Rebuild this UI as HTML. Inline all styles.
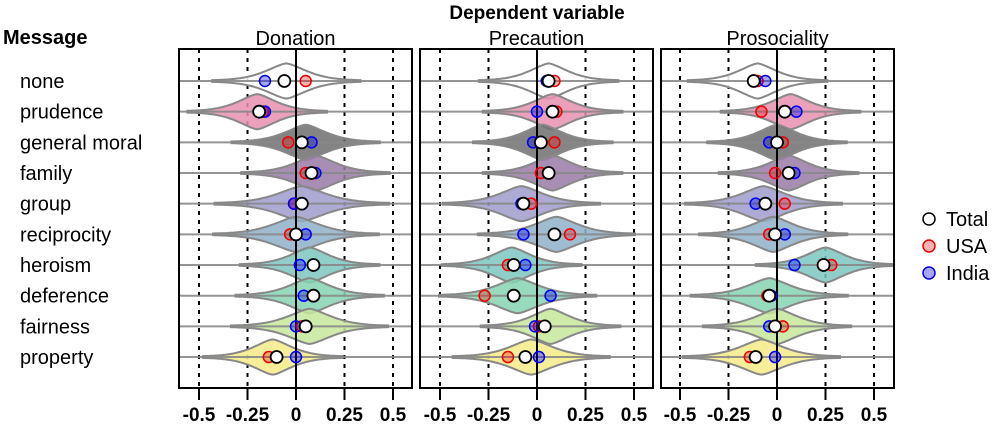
<!DOCTYPE html>
<html><head><meta charset="utf-8"><style>
html,body{margin:0;padding:0;background:#fff}
svg{display:block;font-family:"Liberation Sans",Arial,sans-serif}
</style></head><body>
<svg id="chart" width="1000" height="430" viewBox="0 0 1000 430">
<text x="537" y="19" text-anchor="middle" font-size="19" font-weight="bold">Dependent variable</text>
<text x="3" y="44" font-size="20" font-weight="bold">Message</text>
<g id="rows"></g>
<g id="panels"></g>
<g>
<circle cx="929" cy="219" r="6" fill="#fff" stroke="#000" stroke-width="1.5"/>
<text x="946" y="226" font-size="20">Total</text>
<circle cx="929" cy="246" r="6" fill="rgba(255,0,0,0.3)" stroke="#e00" stroke-width="1.5"/>
<text x="946" y="253" font-size="20">USA</text>
<circle cx="929" cy="273" r="6" fill="rgba(0,0,255,0.35)" stroke="#00e" stroke-width="1.5"/>
<text x="946" y="280" font-size="20">India</text>
</g>
</svg>
<script>
const messages = ["none","prudence","general moral","family","group","reciprocity","heroism","deference","fairness","property"];
const panelNames = ["Donation","Precaution","Prosociality"];
const tickValues = [-0.5,-0.25,0,0.25,0.5];
const tickLabels = ["-0.5","-0.25","0","0.25","0.5"];
const fillColors = ["#ffffff","#e88fb0","#6e6e6e","#9a7aa6","#9f9ccc","#8fb0c8","#7cc6c0","#86d4b2","#c6e89a","#f5eb86"];
const donationPeak = [-0.05,-0.2,0.05,0.1,0.03,0.0,0.07,0.07,0.07,-0.12];
const donationSpread = [0.085,0.08,0.085,0.085,0.1,0.095,0.08,0.085,0.09,0.08];
const precautionPeak = [0.06,0.08,0.03,0.08,-0.08,0.1,-0.13,-0.1,0.07,-0.03];
const precautionSpread = [0.08,0.08,0.08,0.08,0.09,0.09,0.08,0.09,0.08,0.09];
const prosocialPeak = [-0.1,0.07,0.0,0.06,-0.07,-0.02,0.25,-0.04,0.0,-0.08];
const prosocialSpread = [0.08,0.08,0.08,0.08,0.09,0.085,0.08,0.09,0.085,0.09];
const donationTotal = [-0.06,-0.19,0.03,0.08,0.03,0.0,0.09,0.09,0.05,-0.1];
const donationUSA = [0.05,-0.17,-0.04,0.05,-0.01,-0.03,0.09,0.09,0.03,-0.14];
const donationIndia = [-0.16,-0.16,0.08,0.1,-0.01,0.05,0.02,0.04,0.0,0.0];
const precautionTotal = [0.06,0.08,0.02,0.06,-0.07,0.09,-0.12,-0.12,0.04,-0.06];
const precautionUSA = [0.09,0.1,0.09,0.02,-0.03,0.17,-0.15,-0.27,0.01,-0.15];
const precautionIndia = [0.05,0.0,-0.02,0.06,-0.08,-0.07,-0.06,0.07,-0.01,0.01];
const prosocialTotal = [-0.12,0.04,0.0,0.06,-0.06,-0.01,0.24,-0.04,-0.01,-0.11];
const prosocialUSA = [-0.1,-0.08,0.03,-0.01,0.04,-0.04,0.28,-0.05,0.03,-0.14];
const prosocialIndia = [-0.06,0.1,-0.04,0.09,-0.11,0.04,0.09,-0.03,-0.04,-0.01];

const panels = [
 {left:179,right:412,zero:296,peak:donationPeak,spread:donationSpread,total:donationTotal,usa:donationUSA,india:donationIndia},
 {left:420,right:653,zero:537,peak:precautionPeak,spread:precautionSpread,total:precautionTotal,usa:precautionUSA,india:precautionIndia},
 {left:661,right:894,zero:777,peak:prosocialPeak,spread:prosocialSpread,total:prosocialTotal,usa:prosocialUSA,india:prosocialIndia}
];
const NS="http://www.w3.org/2000/svg";
const plotTop=49,plotBottom=388,scale=194;
const yRow=i=>81+i*30.67;
function mk(tag,attrs,parent){const e=document.createElementNS(NS,tag);for(const k in attrs)e.setAttribute(k,attrs[k]);parent.appendChild(e);return e;}
const rowsG=document.getElementById('rows');
messages.forEach((m,i)=>{
 const t=mk('text',{x:20,y:yRow(i)+7,'font-size':20},rowsG);
 t.textContent=m;
 
 
});
const pg=document.getElementById('panels');
panels.forEach((p,pi)=>{
 const xs=v=>p.zero+v*scale;
 const g=mk('g',{},pg);
 
 
 const title=mk('text',{x:(p.left+p.right)/2,y:45,'text-anchor':'middle','font-size':20},g);
 title.textContent=panelNames[pi];
 
 
 tickValues.forEach((v,ti)=>{
  if(v!==0){const l=mk('line',{x1:xs(v),x2:xs(v),y1:plotTop,y2:plotBottom,stroke:'#000','stroke-width':2,'stroke-dasharray':'4,5'},g);
   
   }
  const tk=mk('line',{x1:xs(v),x2:xs(v),y1:plotBottom,y2:plotBottom+12,stroke:'#000','stroke-width':2},g);
  
  
  const tl=mk('text',{x:xs(v),y:421,'text-anchor':'middle','font-size':19,'font-weight':'bold'},g);
  tl.textContent=tickLabels[ti];
  
  
 });
 messages.forEach((m,i)=>{
  const y=yRow(i),c=p.peak[i],s=p.spread[i]*1.25,h=17;
  const up=[],dn=[];
  for(let k=0;k<=80;k++){
   const v=c-3.6*s+7.2*s*k/80;
   const z=Math.abs((v-c)/s);
   const w=h*Math.exp(-0.6*Math.pow(z,1.5))+0.6;
   let x=Math.max(p.left+1,Math.min(p.right-1,xs(v)));
   up.push(x.toFixed(1)+','+(y-w).toFixed(1));dn.unshift(x.toFixed(1)+','+(y+w).toFixed(1));
  }
  const vp=mk('polygon',{points:up.concat(dn).join(' '),fill:fillColors[i],'fill-opacity':0.85,stroke:'#888','stroke-width':2},g);
  
  
 });
 messages.forEach((m,i)=>{
  const rl=mk('line',{x1:p.left,x2:p.right,y1:yRow(i),y2:yRow(i),stroke:'#888','stroke-width':2,'stroke-opacity':0.9},g);
  
  
 });
 const zl=mk('line',{x1:p.zero,x2:p.zero,y1:plotTop,y2:plotBottom,stroke:'#000','stroke-width':2},g);
 
 
 messages.forEach((m,i)=>{
  const y=yRow(i);
  const a=mk('circle',{cx:xs(p.usa[i]),cy:y,r:5.5,fill:'rgba(255,0,0,0.3)',stroke:'#e00','stroke-width':1.5},g);
  
  
  const b=mk('circle',{cx:xs(p.india[i]),cy:y,r:5.5,fill:'rgba(0,0,255,0.35)',stroke:'#00e','stroke-width':1.5},g);
  
  
  const t=mk('circle',{cx:xs(p.total[i]),cy:y,r:6,fill:'#fff',stroke:'#000','stroke-width':1.8},g);
  
  
 });
 const fr=mk('rect',{x:p.left,y:plotTop,width:p.right-p.left,height:plotBottom-plotTop,fill:'none',stroke:'#000','stroke-width':2},g);
 
 
});
</script>
</body></html>
